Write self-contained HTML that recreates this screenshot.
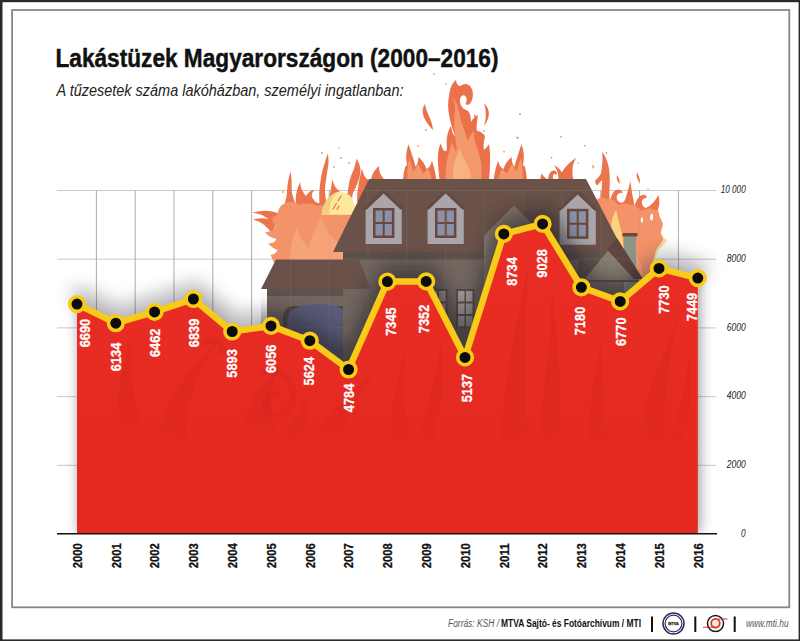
<!DOCTYPE html>
<html lang="hu"><head><meta charset="utf-8"><title>Lakástüzek Magyarországon (2000–2016)</title>
<style>
html,body{margin:0;padding:0;background:#fff;}
body{width:800px;height:641px;overflow:hidden;font-family:"Liberation Sans",sans-serif;}
svg{display:block}
</style></head><body>
<svg width="800" height="641" viewBox="0 0 800 641" font-family="Liberation Sans, sans-serif">
<defs>
<filter id="sh" x="-10%" y="-10%" width="120%" height="120%"><feGaussianBlur stdDeviation="6.5"/></filter>
<filter id="sh2" x="-10%" y="-20%" width="120%" height="140%"><feGaussianBlur stdDeviation="10"/></filter>
<filter id="sh3" x="-10%" y="-40%" width="120%" height="180%"><feGaussianBlur stdDeviation="8.5"/></filter>
<clipPath id="cpA"><path d="M77 304.1 L115.8 323.2 L154.6 311.9 L193.4 299 L232.2 331.5 L271 325.9 L309.8 340.7 L348.6 369.5 L387.4 281.6 L426.2 281.4 L465 357.4 L503.8 233.9 L542.6 223.9 L581.4 287.3 L620.2 301.4 L659 268.4 L697.8 278.1 L697.8 533.7 L77 533.7 Z"/></clipPath>
<linearGradient id="gIn" gradientUnits="userSpaceOnUse" x1="0" y1="260" x2="0" y2="480"><stop offset="0" stop-color="#a8140f" stop-opacity="0.17"/><stop offset="0.6" stop-color="#a8140f" stop-opacity="0.11"/><stop offset="1" stop-color="#a8140f" stop-opacity="0"/></linearGradient>
<linearGradient id="gA" gradientUnits="userSpaceOnUse" x1="0" y1="220" x2="0" y2="534"><stop offset="0" stop-color="#ea2e25"/><stop offset="1" stop-color="#e32820"/></linearGradient>
<clipPath id="cpH"><path d="M369 179 H586 L624 252 L643 279 V534 H261 V289 L276 259.6 H330 L333 252 Z"/></clipPath>
<clipPath id="cpS"><rect x="0" y="0" width="800" height="533.5"/></clipPath>
</defs>
<rect x="0" y="0" width="800" height="641" fill="#fff"/>
<!--FRAME-->
<g fill="#2a2a2a"><rect x="0" y="0" width="800" height="2.2"/><rect x="0" y="0" width="2.5" height="641"/><rect x="798.6" y="0" width="1.4" height="641"/><rect x="0" y="639.4" width="800" height="1.6"/></g>
<rect x="12.1" y="10" width="777.2" height="597.3" fill="none" stroke="#878787" stroke-width="1.8"/>

<g id="grid" stroke="#c9c9c9" stroke-width="1" fill="none">
<line x1="57" y1="190.5" x2="716" y2="190.5"/>
<line x1="57" y1="259.2" x2="716" y2="259.2"/>
<line x1="57" y1="327.9" x2="716" y2="327.9"/>
<line x1="57" y1="396.6" x2="716" y2="396.6"/>
<line x1="57" y1="465.3" x2="716" y2="465.3"/>
<line x1="96.4" y1="190.5" x2="96.4" y2="533" stroke="#adadad"/>
<line x1="135.2" y1="190.5" x2="135.2" y2="533" stroke="#adadad"/>
<line x1="174" y1="190.5" x2="174" y2="533" stroke="#adadad"/>
<line x1="212.8" y1="190.5" x2="212.8" y2="533" stroke="#adadad"/>
<line x1="251.6" y1="190.5" x2="251.6" y2="533" stroke="#adadad"/>
<line x1="290.4" y1="190.5" x2="290.4" y2="533" stroke="#adadad"/>
<line x1="329.2" y1="190.5" x2="329.2" y2="533" stroke="#adadad"/>
<line x1="368" y1="190.5" x2="368" y2="533" stroke="#adadad"/>
<line x1="406.8" y1="190.5" x2="406.8" y2="533" stroke="#adadad"/>
<line x1="445.6" y1="190.5" x2="445.6" y2="533" stroke="#adadad"/>
<line x1="484.4" y1="190.5" x2="484.4" y2="533" stroke="#adadad"/>
<line x1="523.2" y1="190.5" x2="523.2" y2="533" stroke="#adadad"/>
<line x1="562" y1="190.5" x2="562" y2="533" stroke="#adadad"/>
<line x1="600.8" y1="190.5" x2="600.8" y2="533" stroke="#adadad"/>
<line x1="639.6" y1="190.5" x2="639.6" y2="533" stroke="#adadad"/>
<line x1="678.4" y1="190.5" x2="678.4" y2="533" stroke="#adadad"/>
</g>
<g id="flames" opacity="0.95">
<!-- ===== top centre flames ===== -->
<g fill="#ea6a42">
<path d="M440 184 C438 165 436 152 441 143 C442 150 445 153 447 150 C446 140 447 132 451 126 C452 131 453 135 455 136 C451 124 446 110 449 96 C450 88 452 83 456 80 C456.500 84 458.500 86.500 460.500 86 C463 83.500 467 83 470 86 C473.500 90 474 97 471 102 C469.500 105 467 105.500 465.500 104 C467.500 101 467 97 464.500 95.500 C461.500 94.500 459.500 98 460 102 C460.500 106.500 464 109.500 468 111 C470.500 113.500 471 118 471 122 C473 118 476 116 478 115 C477 122 476 127 477 131 C480 131 483 133 485 136 C484 141 483 146 484 150 C486 148 488 146 489 144 C491 155 490 168 489 184 Z"/>
<path d="M 436.5 184 C 436 174 434 166 431.8 160.7 C 431 165 429 168 426.5 169 C 425 164 422 160 418.3 157 C 418.5 161 417.5 164.5 415.5 166.5 C 414 160 411 152 408.5 144.2 C 406 151 405.5 158 407 164.5 C 406.5 166 406 166.5 405.5 166 C 404 170 403 176 403 184 Z"/>
<path d="M493.5 184 C494 174 496 166 498.2 160.7 C499 165 501 168 503.5 169 C505 164 508 160 511.7 157 C511.5 161 512.5 164.5 514.5 166.5 C516 160 519 152 521.5 144.2 C524 151 524.5 158 523 164.5 C523.5 166 524 166.5 524.5 166 C526 170 527 176 527 184 Z"/>
<path d="M425 104 C419 113 426 122 433 130 C432.500 120 426.500 114 425 104 Z"/>
<path d="M484 103 C491 110 490 118 484 126 C486.500 118 486.500 111 484 103 Z"/>
<path d="M474 114 C479 118 477 124 474 128 C475 123 475 119 474 114 Z"/>
<!-- roof-top right curls -->
<path d="M539.500 184 C540.500 178 541 175.500 541.700 173.500 C543 175.500 544.500 177.500 546.500 178.500 L549 184 Z"/>
<path d="M548.500 184 C547.500 176 549.500 171 553.500 170.500 C556.200 170.500 557.600 172.600 556.500 175 C555.500 173.500 553.500 173.600 553 175.500 C552.500 177.500 553.500 179.500 555.500 184 Z"/>
<path d="M554 165.500 C558.500 167 561.500 170.500 563 175 L565 184 L557.500 184 C559.500 177 558 170.500 554 165.500 Z"/>
<path d="M559.500 184 C559.500 173 565 165 576.200 157.700 C572 164 571.500 171 574 184 Z"/>
</g>
<g fill="#f39364">
<path d="M446 184 C444 166 449 152 452 142 C454 148 455 151 457 151 C455 136 453 122 455 112 C455.500 106 454 101 452.500 97 C456 101 458 106 459 112 C461 122 465 132 468 141 C470 136 472 133 474 131 C474 142 478 150 480 157 C482 166 482 176 481 184 Z"/>
<path d="M 432 184 C 431.5 177 430 172 428 168 C 426.5 171 424.5 173 422.5 173 C 421.5 169 419.5 166 417 163.5 C 416.5 167 415 170 413 171 C 412 167 410.5 162 409 158 C 407.5 166 407 175 407.5 184 Z"/>
<path d="M498 184 C498.5 177 500 172 502 168 C503.5 171 505.5 173 507.5 173 C508.5 169 510.5 166 513 163.5 C513.5 167 515 170 517 171 C518 167 519.5 162 521 158 C522.5 166 523 175 522.5 184 Z"/>
</g>
<path d="M454 184 C451 170 455 160 460 148 C462 158 468 163 470 172 C471 177 471 181 470 184 Z" fill="#f8ae7c"/>
<g fill="#f0915e">
<circle cx="434" cy="74" r="0.900"/><circle cx="426" cy="130" r="0.900"/><circle cx="418" cy="146" r="0.900"/><circle cx="520" cy="114" r="1"/><circle cx="484" cy="131" r="0.900"/><circle cx="518" cy="138" r="0.900"/><circle cx="504" cy="151.700" r="0.900"/><circle cx="517" cy="137.500" r="0.900"/><circle cx="561" cy="136.700" r="0.900"/><circle cx="551.500" cy="157.700" r="0.900"/><circle cx="585" cy="145.700" r="0.900"/><circle cx="593.500" cy="167.500" r="0.900"/><circle cx="446" cy="84" r="0.800"/>
</g>

<!-- ===== left flames ===== -->
<g fill="#ec6e45">
<path d="M280 214 C270 209.500 261 210 252 212.700 C261 213.500 268 217 274 225 Z"/>
<path d="M277 222 C269 218 260 217 253 219.500 C261 221.500 267 226 272 234 Z"/>
<path d="M285 208 C284.500 203 285.500 200 286.500 196.800 C287 193 287 189 287.500 185.600 C288 181 289 177 290.300 171.500 C291.200 175 291.500 178 291.600 181.800 C291.800 186 291.600 190 292 193 C292.800 197 294 200 295 202.400 L297 208 Z"/>
<path d="M296 206 C295 196 297 188 300.500 182 C300 188 303 192 306 196 C309 192 311 189.500 314.500 190 C311 193 311 197 314 200 C316 203 319 204 321 202 C320 207 316 211 311 210 L299 210 Z"/>
<path d="M320 209 C319 200 319 192 319.700 187.500 C320.500 181 321 177 322 172.500 C323.500 167 325 162 327.700 153.400 C328.800 158 328.600 162 328.300 165 C327.500 170 326.800 174 326.400 178 C325.500 183 324.800 187 325 191 C325.300 196 326 201 327.500 209 Z"/>
<path d="M328 207 C329 198 331 190 332.400 179 C334 186 337 190 340.500 192 C337 193 335 196 335 200 L336 209 Z"/>
<path d="M346.500 213 C346.500 206 346.800 200 347.400 195 C348 190 348.500 186 349.300 181.800 C350.500 177 352 173 354 168.700 C355 165 356 162 356.400 158.400 C358.500 162 360 165 360.500 168.700 C360.500 173 359.800 177 358.600 180 C357 185 355 189 353 193 C352.300 196 352 199 352 202.400 L353.500 213 Z"/>
<path d="M357 202 C357 190 359.500 178 362 168.500 C363 174 365 178 368.500 180 L374 202 Z"/>
<path d="M370 184 C371 176 374 170 379 166 C379 172 381 176 384 179 L384 190 Z"/>
</g>
<path fill="#f38e62" d="M276 268 C274 262 272 258 270.600 255 C274 254.500 276 253 277.500 250 C274 249 271 247 268 243.600 C272 243.500 275 242 276.500 239 C272 238 268 236 265 232 C270 232 274 230 276 226 C273 224 272 221 272.500 218 C275 217 277 215 278 212 C279 207 282 204 286 203 C290 200 296 203 300 205 C306 202 312 204 318 206 C322 204 326 205 330 207 C336 206 342 212 346 214.600 L372 212 L382 268 Z"/>
<path fill="#f69f73" d="M290 268 C288 254 291 240 297 228 C300 238 304 244 309 248 C311 236 316 226 322 218 C325 228 330 236 337 242 L352 238 L362 268 Z"/>
<path fill="#fbe796" d="M321.500 214.700 C322.500 204 329 194 338 192 C344 191.400 349 194 352 198 L358 214.700 Z"/>
<path fill="#f6cc78" d="M321.500 214.700 C322.500 204 329 194 338 192 C332 197 329 205 329.500 214.700 Z"/>
<path d="M341 196 L338 201 M336.500 203.500 L333 209 M339 206 L337 209.500" stroke="#e8643a" stroke-width="1.100" fill="none" stroke-linecap="round"/>
<g fill="#f0915e">
<circle cx="322" cy="153" r="0.900"/><circle cx="334" cy="167" r="0.900"/><circle cx="341" cy="158" r="0.900"/><circle cx="349" cy="163" r="0.900"/><circle cx="283" cy="192" r="0.900"/><circle cx="339" cy="148" r="0.800"/>
</g>

<!-- ===== right flames ===== -->
<path fill="#f8dc9c" d="M656 232 C660 234 664 237 667 241 C664 245 660 248 658 251 C654 262 650 270 646 276 L640 270 Z"/>
<g fill="#ec6e45">
<path d="M600 204 C601 196 602 188 602.200 180 C600 182 598 184 597.600 185.700 C595 184 594.500 181.500 596 179.500 C598 178 600 176 601 173 C602.500 166 602.800 158 602.200 151.700 C606 157 608.500 163 609.200 170 C610 178 610 186 609.300 192 L610 206 Z"/>
<path d="M610 206 C610 198 612 192 616 190 C619 189 622 190 623 193 C621 192.500 618.500 193 617 195.500 C616 198 617 201 620 202.500 C622 203 624 202 625 200 C627 194 629 187 630.300 181 C631.500 190 633 199 635 208 L634 214 L612 214 Z"/>
<path d="M634 212 C634 204 637 198 641 195.500 C644 194 646.500 195 647 198 C645 197.500 643 198.500 642 201 C641.500 204 643 207 646 208 C651 206 655 201 658.500 195 C660 201 659.500 206 657.500 211 L656 218 L636 218 Z"/>
<path d="M617.500 175 C615.500 178.500 618 181.500 619.500 184 C620.500 181 618.500 178 617.500 175 Z"/>
<path d="M637.400 172.500 C635 176.500 638.500 180 639.500 183.500 C641 180 638.500 176 637.400 172.500 Z"/>
</g>
<path fill="#f38e62" d="M596 200 C600 197 603 196 606 199 C610 197 614 200 618 205 C622 203 626 203 630 205 C634 204 638 208 642 211 C646 208 650 208 654 210 C656 210 657 210 658 210 C659 215 661 220 663 224 C662 228 661 231 660.800 233.700 C662 235 663 237 663 240 C661 244 658 247 656 250 C653 262 649 276 644 292 L602 292 Z"/>
<path fill="#f69f73" d="M620 292 C618 272 621 254 628 238 C632 248 637 256 641 264 C643 274 642 284 640 292 Z"/>
<path fill="#fad17c" d="M611.500 231 C610.500 222 613 215 616.300 210 C617.500 217 619.500 225 622 233 L624 252 Z"/>
<path fill="#fff" d="M642 216.500 C640 219.500 640.500 222 642.500 223 C643.500 220.500 643 218.500 642 216.500 Z"/>
<path fill="#fff" d="M652 213 C649 216.500 649.500 219.500 652 221 C653.500 218 653.500 215.500 652 213 Z"/>
<g fill="#f0915e">
<circle cx="606.500" cy="153" r="0.900"/><circle cx="593" cy="166" r="0.900"/><circle cx="578" cy="163" r="0.800"/><circle cx="648" cy="189" r="0.800"/>
</g>
</g>

<g id="house">
<!-- garage wall -->
<rect x="267" y="286" width="102" height="248" fill="#71655f"/>
<rect x="267" y="289" width="102" height="7" fill="#5f524c"/>
<!-- garage door arch -->
<path d="M283 534 V318 Q283 306 295 306 H341 Q353 306 353 318 V534 Z" fill="#4f4644"/>
<path d="M287 534 V322 Q287 304 318.500 304 Q350 304 350 322 V534 Z" fill="#585a77"/>
<!-- main wall -->
<rect x="343" y="248" width="270" height="286" fill="#73675f"/>
<rect x="343" y="251" width="270" height="9" fill="#5d504a"/>
<!-- right wing wall -->
<rect x="585" y="272" width="50" height="262" fill="#7a6f66"/>
<!-- chimney -->
<rect x="624" y="236" width="12" height="60" fill="#8f948a"/>
<rect x="622.500" y="233" width="15" height="3.500" fill="#6a4a3f"/>
<!-- garage roof -->
<path d="M276 259.600 H359 L371 289 H261 Z" fill="#69514a"/>
<!-- main roof -->
<path d="M369 179 H586 L624 252 H333 Z" fill="#6a5249"/>
<!-- central gable -->
<path d="M514 203.500 L546 236 V300 H484 V236 Z" fill="#85776c"/>
<path d="M514 200 L550 236.500 H545 L514 205.500 L483 236.500 H478 Z" fill="#6a5249"/>
<!-- right gable -->
<path d="M578 252 H612 L640 282 H578 Z" fill="#5e524c"/>
<path d="M608 250.500 L639 280 H584 Z" fill="#877c70"/>
<path d="M617 238 L643 279 H634 L607 249.500 Z" fill="#5f473f"/>
<!-- dormers -->
<g id="dormer">
<path d="M383.600 191.600 L401.800 209 V244 H365.600 V209 Z" fill="#a9a5ab"/>
<path d="M383.600 189 L405 209.600 H400.500 L383.600 193.600 L366.800 209.600 H362.500 Z" fill="#644b42"/>
<rect x="373" y="208" width="21.400" height="30" fill="#69493f"/>
<rect x="375.500" y="210.500" width="7.200" height="11.500" fill="#8b91a6"/><rect x="384.700" y="210.500" width="7.200" height="11.500" fill="#8b91a6"/>
<rect x="375.500" y="224" width="7.200" height="11.500" fill="#8b91a6"/><rect x="384.700" y="224" width="7.200" height="11.500" fill="#8b91a6"/>
</g>
<use href="#dormer" x="62" y="0"/>
<use href="#dormer" x="194" y="0.800"/>
<!-- ground-floor windows -->
<g id="win">
<rect x="456" y="289" width="18.500" height="39.500" fill="#5a4c47"/>
<g fill="#a39d9b">
<rect x="458" y="291" width="6.500" height="10.500"/><rect x="466" y="291" width="6.500" height="10.500"/>
<rect x="458" y="303.500" width="6.500" height="10.500"/><rect x="466" y="303.500" width="6.500" height="10.500"/>
<rect x="458" y="316" width="6.500" height="10.500"/><rect x="466" y="316" width="6.500" height="10.500"/>
</g></g>
<use href="#win" x="-27" y="0"/>
</g>

<g clip-path="url(#cpH)" opacity="0.12"><use href="#grid"/></g>
<g clip-path="url(#cpH)"><path d="M77 304.1 L115.8 323.2 L154.6 311.9 L193.4 299 L232.2 331.5 L271 325.9 L309.8 340.7 L348.6 369.5 L387.4 281.6 L426.2 281.4 L465 357.4 L503.8 233.9 L542.6 223.9 L581.4 287.3 L620.2 301.4 L659 268.4 L697.8 278.1 L697.8 533.7 L77 533.7 Z" fill="#1d1a1c" opacity="0.36" filter="url(#sh2)" stroke="#1d1a1c" stroke-width="16" stroke-linejoin="round" transform="translate(2 -6)"/></g>
<g clip-path="url(#cpS)"><path d="M77 304.1 L115.8 323.2 L154.6 311.9 L193.4 299 L232.2 331.5 L271 325.9 L309.8 340.7 L348.6 369.5 L387.4 281.6 L426.2 281.4 L465 357.4 L503.8 233.9 L542.6 223.9 L581.4 287.3 L620.2 301.4 L659 268.4 L697.8 278.1 L697.8 533.7 L77 533.7 Z" fill="#2a2a36" opacity="0.48" filter="url(#sh)" transform="translate(2 -1)"/>
<polyline points="77,304.1 115.8,323.2 154.6,311.9 193.4,299 232.2,331.5 271,325.9 309.8,340.7 348.6,369.5 387.4,281.6 426.2,281.4 465,357.4 503.8,233.9 542.6,223.9 581.4,287.3 620.2,301.4 659,268.4 697.8,278.1" fill="none" stroke="#2a2a36" stroke-width="16" stroke-linejoin="round" stroke-linecap="round" opacity="0.33" filter="url(#sh3)" transform="translate(2 -9)"/></g>
<path d="M77 304.1 L115.8 323.2 L154.6 311.9 L193.4 299 L232.2 331.5 L271 325.9 L309.8 340.7 L348.6 369.5 L387.4 281.6 L426.2 281.4 L465 357.4 L503.8 233.9 L542.6 223.9 L581.4 287.3 L620.2 301.4 L659 268.4 L697.8 278.1 L697.8 533.7 L77 533.7 Z" fill="url(#gA)"/>
<g clip-path="url(#cpA)"><g fill="url(#gIn)">
<path d="M121 424 Q112.2 394.2 131.5 339 Q129.9 390 141 424 Z"/>
<path d="M160 438 Q156.5 404.1 217 341 Q182.8 399.2 184 438 Z"/>
<path d="M176 444 Q175 435.6 186 420 Q185.3 434.4 190 444 Z"/>
<path d="M90 452 Q89 442.2 104 424 Q101.4 440.8 106 452 Z"/>
<path d="M248 430 Q237 407.6 280 366 Q261.9 404.4 278 430 Z"/>
<path d="M296 440 Q311 424.6 306 396 Q294.5 422.4 274 440 Z"/>
<path d="M317 438 Q321.2 414.9 375.5 372 Q346.4 411.6 343 438 Z"/>
<path d="M392 440 Q388.5 407.8 405 348 Q403 403.2 410 440 Z"/>
<path d="M432 446 Q445 407.5 442 336 Q431.6 402 414 446 Z"/>
<path d="M500 470 Q498 399.3 528 268 Q521.8 389.2 530 470 Z"/>
<path d="M556 460 Q566 400.5 552 290 Q547.4 392 532 460 Z"/>
<path d="M590 450 Q586 410.1 602 336 Q601.5 404.4 610 450 Z"/>
<path d="M640 452 Q637 405.8 678 320 Q659.9 399.2 666 452 Z"/>
<path d="M684 440 Q693 408.5 690 350 Q682.7 404 670 440 Z"/>
</g>
<g fill="none" stroke="url(#gIn)" stroke-width="7" stroke-linecap="round">
<path d="M262 372 C282 366 298 382 292 402 C288 416 270 418 266 406 C263 398 270 392 277 395"/>
<path d="M205 343 C214 338 224 342 222 352"/>
</g></g>
<polyline points="77,304.1 115.8,323.2 154.6,311.9 193.4,299 232.2,331.5 271,325.9 309.8,340.7 348.6,369.5 387.4,281.6 426.2,281.4 465,357.4 503.8,233.9 542.6,223.9 581.4,287.3 620.2,301.4 659,268.4 697.8,278.1" fill="none" stroke="#f8cb18" stroke-width="6.5" stroke-linejoin="round" stroke-linecap="round"/>
<circle cx="77" cy="304.1" r="7.3" fill="#0c0c0c" stroke="#f8cb18" stroke-width="3.6"/>
<circle cx="115.8" cy="323.2" r="7.3" fill="#0c0c0c" stroke="#f8cb18" stroke-width="3.6"/>
<circle cx="154.6" cy="311.9" r="7.3" fill="#0c0c0c" stroke="#f8cb18" stroke-width="3.6"/>
<circle cx="193.4" cy="299" r="7.3" fill="#0c0c0c" stroke="#f8cb18" stroke-width="3.6"/>
<circle cx="232.2" cy="331.5" r="7.3" fill="#0c0c0c" stroke="#f8cb18" stroke-width="3.6"/>
<circle cx="271" cy="325.9" r="7.3" fill="#0c0c0c" stroke="#f8cb18" stroke-width="3.6"/>
<circle cx="309.8" cy="340.7" r="7.3" fill="#0c0c0c" stroke="#f8cb18" stroke-width="3.6"/>
<circle cx="348.6" cy="369.5" r="7.3" fill="#0c0c0c" stroke="#f8cb18" stroke-width="3.6"/>
<circle cx="387.4" cy="281.6" r="7.3" fill="#0c0c0c" stroke="#f8cb18" stroke-width="3.6"/>
<circle cx="426.2" cy="281.4" r="7.3" fill="#0c0c0c" stroke="#f8cb18" stroke-width="3.6"/>
<circle cx="465" cy="357.4" r="7.3" fill="#0c0c0c" stroke="#f8cb18" stroke-width="3.6"/>
<circle cx="503.8" cy="233.9" r="7.3" fill="#0c0c0c" stroke="#f8cb18" stroke-width="3.6"/>
<circle cx="542.6" cy="223.9" r="7.3" fill="#0c0c0c" stroke="#f8cb18" stroke-width="3.6"/>
<circle cx="581.4" cy="287.3" r="7.3" fill="#0c0c0c" stroke="#f8cb18" stroke-width="3.6"/>
<circle cx="620.2" cy="301.4" r="7.3" fill="#0c0c0c" stroke="#f8cb18" stroke-width="3.6"/>
<circle cx="659" cy="268.4" r="7.3" fill="#0c0c0c" stroke="#f8cb18" stroke-width="3.6"/>
<circle cx="697.8" cy="278.1" r="7.3" fill="#0c0c0c" stroke="#f8cb18" stroke-width="3.6"/>
<g fill="#fff" stroke="#fff" stroke-width="0.25" font-weight="700" font-size="14.5" text-anchor="end">
<text transform="translate(89.7 318.8) rotate(-90)" textLength="28.5" lengthAdjust="spacingAndGlyphs">6690</text>
<text transform="translate(121 342.7) rotate(-90)" textLength="28.5" lengthAdjust="spacingAndGlyphs">6134</text>
<text transform="translate(159.8 328.6) rotate(-90)" textLength="28.5" lengthAdjust="spacingAndGlyphs">6462</text>
<text transform="translate(199.2 318.7) rotate(-90)" textLength="28.5" lengthAdjust="spacingAndGlyphs">6839</text>
<text transform="translate(237.4 349.2) rotate(-90)" textLength="28.5" lengthAdjust="spacingAndGlyphs">5893</text>
<text transform="translate(276.2 344.6) rotate(-90)" textLength="28.5" lengthAdjust="spacingAndGlyphs">6056</text>
<text transform="translate(314.2 356.9) rotate(-90)" textLength="28.5" lengthAdjust="spacingAndGlyphs">5624</text>
<text transform="translate(354.2 383.7) rotate(-90)" textLength="28.5" lengthAdjust="spacingAndGlyphs">4784</text>
<text transform="translate(396 307.3) rotate(-90)" textLength="28.5" lengthAdjust="spacingAndGlyphs">7345</text>
<text transform="translate(429.4 304.7) rotate(-90)" textLength="28.5" lengthAdjust="spacingAndGlyphs">7352</text>
<text transform="translate(471.6 373.8) rotate(-90)" textLength="28.5" lengthAdjust="spacingAndGlyphs">5137</text>
<text transform="translate(516.6 257.2) rotate(-90)" textLength="28.5" lengthAdjust="spacingAndGlyphs">8734</text>
<text transform="translate(547.2 249.2) rotate(-90)" textLength="28.5" lengthAdjust="spacingAndGlyphs">9028</text>
<text transform="translate(585.2 306.7) rotate(-90)" textLength="28.5" lengthAdjust="spacingAndGlyphs">7180</text>
<text transform="translate(626.2 317.4) rotate(-90)" textLength="28.5" lengthAdjust="spacingAndGlyphs">6770</text>
<text transform="translate(669.2 285.3) rotate(-90)" textLength="28.5" lengthAdjust="spacingAndGlyphs">7730</text>
<text transform="translate(697 292.8) rotate(-90)" textLength="28.5" lengthAdjust="spacingAndGlyphs">7449</text>
</g>
<line x1="57" y1="533.7" x2="717" y2="533.7" stroke="#111" stroke-width="1.6"/>
<g fill="#111" stroke="#111" stroke-width="0.3" font-weight="700" font-size="13.5" text-anchor="end">
<text transform="translate(81.7 543.3) rotate(-90)" textLength="25" lengthAdjust="spacingAndGlyphs">2000</text>
<text transform="translate(120.5 543.3) rotate(-90)" textLength="25" lengthAdjust="spacingAndGlyphs">2001</text>
<text transform="translate(159.3 543.3) rotate(-90)" textLength="25" lengthAdjust="spacingAndGlyphs">2002</text>
<text transform="translate(198.1 543.3) rotate(-90)" textLength="25" lengthAdjust="spacingAndGlyphs">2003</text>
<text transform="translate(236.9 543.3) rotate(-90)" textLength="25" lengthAdjust="spacingAndGlyphs">2004</text>
<text transform="translate(275.7 543.3) rotate(-90)" textLength="25" lengthAdjust="spacingAndGlyphs">2005</text>
<text transform="translate(314.5 543.3) rotate(-90)" textLength="25" lengthAdjust="spacingAndGlyphs">2006</text>
<text transform="translate(353.3 543.3) rotate(-90)" textLength="25" lengthAdjust="spacingAndGlyphs">2007</text>
<text transform="translate(392.1 543.3) rotate(-90)" textLength="25" lengthAdjust="spacingAndGlyphs">2008</text>
<text transform="translate(430.9 543.3) rotate(-90)" textLength="25" lengthAdjust="spacingAndGlyphs">2009</text>
<text transform="translate(469.7 543.3) rotate(-90)" textLength="25" lengthAdjust="spacingAndGlyphs">2010</text>
<text transform="translate(508.5 543.3) rotate(-90)" textLength="25" lengthAdjust="spacingAndGlyphs">2011</text>
<text transform="translate(547.3 543.3) rotate(-90)" textLength="25" lengthAdjust="spacingAndGlyphs">2012</text>
<text transform="translate(586.1 543.3) rotate(-90)" textLength="25" lengthAdjust="spacingAndGlyphs">2013</text>
<text transform="translate(624.9 543.3) rotate(-90)" textLength="25" lengthAdjust="spacingAndGlyphs">2014</text>
<text transform="translate(663.7 543.3) rotate(-90)" textLength="25" lengthAdjust="spacingAndGlyphs">2015</text>
<text transform="translate(702.5 543.3) rotate(-90)" textLength="25" lengthAdjust="spacingAndGlyphs">2016</text>
</g>
<g fill="#222" font-style="italic" font-size="10.5">
<text x="720.7" y="193.3" textLength="25" lengthAdjust="spacingAndGlyphs">10 000</text>
<text x="726.7" y="262" textLength="19" lengthAdjust="spacingAndGlyphs">8000</text>
<text x="726.7" y="330.7" textLength="19" lengthAdjust="spacingAndGlyphs">6000</text>
<text x="726.7" y="399.4" textLength="19" lengthAdjust="spacingAndGlyphs">4000</text>
<text x="726.7" y="468.1" textLength="19" lengthAdjust="spacingAndGlyphs">2000</text>
<text x="741.1" y="536.8" textLength="4.6" lengthAdjust="spacingAndGlyphs">0</text>
</g>
<text x="55.5" y="67.4" font-size="26.5" font-weight="700" fill="#111" stroke="#111" stroke-width="0.45" textLength="443" lengthAdjust="spacingAndGlyphs">Lakástüzek Magyarországon (2000–2016)</text>
<text x="56.5" y="96" font-size="17.2" font-style="italic" fill="#222" textLength="347" lengthAdjust="spacingAndGlyphs">A tűzesetek száma lakóházban, személyi ingatlanban:</text>
<g id="footer">
<text x="448" y="627" font-size="10" fill="#555" font-style="italic" textLength="51" lengthAdjust="spacingAndGlyphs">Forrás: KSH /</text>
<text x="501" y="627" font-size="10" fill="#111" font-weight="700" textLength="140" lengthAdjust="spacingAndGlyphs">MTVA Sajtó- és Fotóarchívum / MTI</text>
<rect x="651" y="616.500" width="2" height="15.500" fill="#111"/>
<rect x="694.300" y="616.500" width="2" height="15.500" fill="#111"/>
<rect x="733.700" y="616.500" width="2" height="15.500" fill="#111"/>
<!-- MTVA logo -->
<circle cx="673.500" cy="623.500" r="10.500" fill="#fff" stroke="#352a55" stroke-width="1.500"/>
<circle cx="673.500" cy="623.500" r="8.400" fill="#fff" stroke="#352a55" stroke-width="1.200"/>
<text x="673.500" y="625" font-size="4.200" font-weight="700" fill="#1c2a22" stroke="#1c2a22" stroke-width="0.250" text-anchor="middle" textLength="10.500" lengthAdjust="spacingAndGlyphs">MTVA</text>
<!-- MTI logo -->
<circle cx="715.500" cy="623.500" r="8" fill="#fff" stroke="#1a1a1a" stroke-width="1.500"/>
<circle cx="715.500" cy="623.200" r="4.300" fill="#fdeccf" stroke="#d8303a" stroke-width="1.800"/>
<path d="M703 627.300 H713 M718 619 H727.500" stroke="#d8303a" stroke-width="1.100" fill="none"/>
<text x="746" y="626.800" font-size="10" fill="#555" font-style="italic" textLength="42.500" lengthAdjust="spacingAndGlyphs">www.mti.hu</text>
</g>

</svg></body></html>
